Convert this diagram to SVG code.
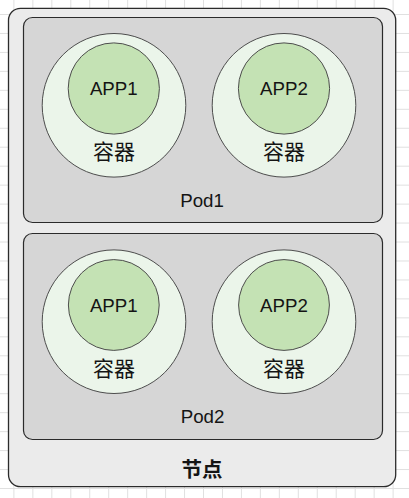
<svg xmlns="http://www.w3.org/2000/svg" width="409" height="498" viewBox="0 0 409 498">
  <defs>
    <pattern id="grid" x="13.4" y="14" width="18.96" height="18.96" patternUnits="userSpaceOnUse">
      <path d="M0 0.5 H18.96 M0.5 0 V18.96" fill="none" stroke="#e0e0e0" stroke-width="1"/>
    </pattern>
  </defs>
  <style>
    .node{fill:#ebebeb;stroke:#2b2b2b;stroke-width:1.3}
    .pod{fill:#d6d6d6;stroke:#2b2b2b;stroke-width:1.2}
    .ctr{fill:#ebf5ea;stroke:#4d4d4d;stroke-width:1}
    .app{fill:#c4e2b4;stroke:#4d4d4d;stroke-width:1}
    .lat{font-family:"Liberation Sans","Noto Sans CJK SC",sans-serif;font-size:18.7px;fill:#141414;text-anchor:middle}
    .cjk{font-family:"Noto Sans CJK SC",sans-serif;font-size:21px;fill:#141414;text-anchor:middle}
    .bold{font-family:"Noto Sans CJK SC",sans-serif;font-size:20.5px;font-weight:bold;fill:#141414;text-anchor:middle}
  </style>
  <rect width="409" height="498" fill="#ffffff"/>
  <rect width="409" height="498" fill="url(#grid)"/>
  <g id="node">
    <rect class="node" x="8.5" y="8.3" width="387.2" height="478.4" rx="12"/>
    <text class="bold" x="202" y="476.5">节点</text>
  </g>
  <g id="pod1">
    <rect class="pod" x="23.5" y="17.5" width="359" height="205" rx="9"/>
    <text class="lat" x="202" y="206.5">Pod1</text>
  </g>
  <g id="pod2">
    <rect class="pod" x="23.5" y="233.5" width="359" height="206" rx="9"/>
    <text class="lat" x="202.5" y="422.5">Pod2</text>
  </g>
  <g id="pod1-container1">
    <circle class="ctr" cx="114" cy="105.3" r="71.8"/>
    <text class="cjk" x="114" y="159">容器</text>
  </g>
  <g id="pod1-app1">
    <circle class="app" cx="113.8" cy="88.5" r="45.6"/>
    <text class="lat" x="113.8" y="95">APP1</text>
  </g>
  <g id="pod1-container2">
    <circle class="ctr" cx="284" cy="105.3" r="71.8"/>
    <text class="cjk" x="284" y="159">容器</text>
  </g>
  <g id="pod1-app2">
    <circle class="app" cx="284" cy="88.5" r="45.6"/>
    <text class="lat" x="284" y="95">APP2</text>
  </g>
  <g id="pod2-container1">
    <circle class="ctr" cx="114" cy="321.7" r="71.8"/>
    <text class="cjk" x="114" y="375.5">容器</text>
  </g>
  <g id="pod2-app1">
    <circle class="app" cx="113.8" cy="305" r="45.4"/>
    <text class="lat" x="113.8" y="311.5">APP1</text>
  </g>
  <g id="pod2-container2">
    <circle class="ctr" cx="284" cy="321.7" r="71.8"/>
    <text class="cjk" x="284" y="375.5">容器</text>
  </g>
  <g id="pod2-app2">
    <circle class="app" cx="284" cy="305" r="45.4"/>
    <text class="lat" x="284" y="311.5">APP2</text>
  </g>
  <g id="connectors"/>
</svg>
